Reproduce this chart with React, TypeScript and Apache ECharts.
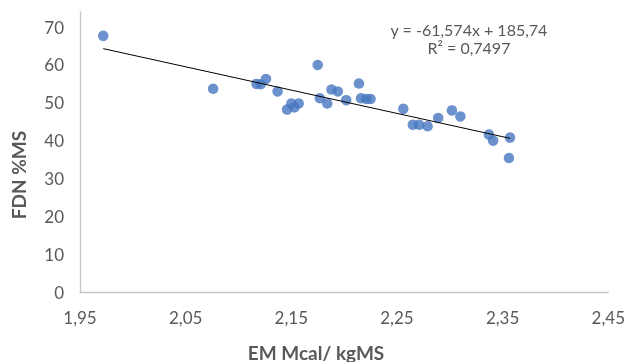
import React, { useEffect, useRef } from "react";
import * as echarts from "echarts";

const emValues = [
  1.972, 2.076, 2.117, 2.121, 2.126, 2.137, 2.146, 2.15, 2.153, 2.157, 2.175,
  2.177, 2.184, 2.188, 2.194, 2.202, 2.214, 2.216, 2.221, 2.225, 2.256, 2.265,
  2.271, 2.279, 2.289, 2.302, 2.31, 2.337, 2.341, 2.357, 2.356,
];
const fdnValues = [
  67.7, 53.7, 55.0, 54.9, 56.3, 53.0, 48.2, 49.8, 48.8, 49.8, 60.0, 51.2, 49.8,
  53.5, 53.0, 50.7, 55.1, 51.2, 51.0, 51.0, 48.4, 44.2, 44.2, 43.8, 46.0, 48.0,
  46.4, 41.6, 40.0, 40.8, 35.4,
];
const slope = -61.574;
const intercept = 185.74;
const equationText = "y = -61,574x + 185,74";
const r2Text = "R² = 0,7497";
const xTitle = "EM Mcal/ kgMS";
const yTitle = "FDN %MS";

export default function App() {
  const ref = useRef<HTMLDivElement>(null);
  useEffect(() => {
    if (!ref.current) return;
    const chart = echarts.init(ref.current, undefined, { renderer: "svg" });
    const pts = emValues.map((x, i) => [x, fdnValues[i]]);
    const xMin = Math.min(...emValues);
    const xMax = Math.max(...emValues);
    const trend = [
      [xMin, slope * xMin + intercept],
      [xMax, slope * xMax + intercept],
    ];
    const font = "Lato, 'Open Sans', sans-serif";
    chart.setOption({
      animation: false,
      grid: { left: 80, right: 19, top: 12, bottom: 70, containLabel: false },
      xAxis: {
        type: "value",
        min: 1.95,
        max: 2.45,
        interval: 0.05,
        axisLine: { show: true, lineStyle: { color: "#c4c4c4", width: 1.3 } },
        axisTick: { show: false },
        splitLine: { show: false },
        axisLabel: {
          color: "#595959",
          fontFamily: font,
          fontSize: 17,
          margin: 17,
          formatter: (v: number) =>
            Math.round(v * 100) % 10 === 5 ? v.toFixed(2).replace(".", ",") : "",
        },
      },
      yAxis: {
        type: "value",
        min: 0,
        max: 74,
        interval: 10,
        axisLine: { show: true, lineStyle: { color: "#c4c4c4", width: 1.3 } },
        axisTick: { show: false },
        splitLine: { show: false },
        axisLabel: {
          color: "#595959",
          fontFamily: font,
          fontSize: 17,
          margin: 16,
          formatter: (v: number) => (v % 10 === 0 ? String(v) : ""),
        },
      },
      graphic: [
        {
          type: "text",
          x: 469,
          y: 29,
          style: {
            text: equationText,
            fill: "#595959",
            font: `16px ${font}`,
            textAlign: "center",
            textVerticalAlign: "middle",
          },
        },
        {
          type: "text",
          x: 469,
          y: 47,
          style: {
            text: r2Text,
            fill: "#595959",
            font: `16px ${font}`,
            textAlign: "center",
            textVerticalAlign: "middle",
          },
        },
        {
          type: "text",
          x: 18,
          y: 175,
          rotation: Math.PI / 2,
          style: {
            text: yTitle,
            fill: "#595959",
            font: `bold 19px ${font}`,
            textAlign: "center",
            textVerticalAlign: "middle",
          },
        },
        {
          type: "text",
          x: 316,
          y: 352,
          style: {
            text: xTitle,
            fill: "#595959",
            font: `bold 19px ${font}`,
            textAlign: "center",
            textVerticalAlign: "middle",
          },
        },
      ],
      series: [
        {
          type: "scatter",
          data: pts,
          symbolSize: 10.5,
          itemStyle: { color: "#4677bf" },
          z: 2,
        },
        {
          type: "line",
          data: trend,
          symbol: "none",
          lineStyle: { color: "#000000", width: 1 },
          z: 3,
        },
      ],
    });
    return () => chart.dispose();
  }, []);
  return (
    <div
      ref={ref}
      style={{ position: "fixed", left: 0, top: 0, width: 628, height: 362 }}
    />
  );
}
